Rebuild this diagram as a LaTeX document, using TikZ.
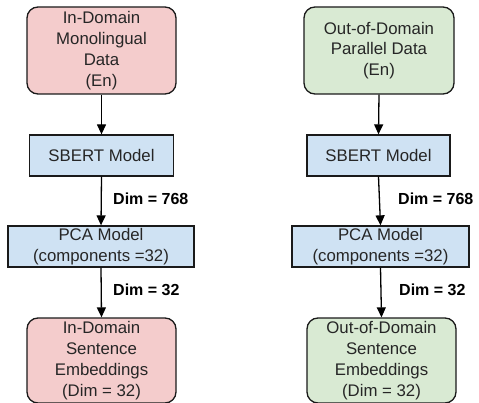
\documentclass[tikz,border=0pt]{standalone}
\usepackage{fontspec}
\setmainfont{Liberation Sans}
\usetikzlibrary{arrows.meta}
\definecolor{pinkf}{HTML}{F4CCCC}
\definecolor{greenf}{HTML}{D9EAD3}
\definecolor{bluef}{HTML}{CFE2F3}
\definecolor{edge}{HTML}{1A1A1A}
\tikzset{
  base/.style={draw=edge, line width=1.3pt, align=center, inner sep=0pt,
    font=\fontsize{16.8}{20.8}\selectfont, text=black!85},
  datapink/.style={base, fill=pinkf, rounded corners=11pt, minimum width=149pt, minimum height=87pt},
  datagreen/.style={base, fill=greenf, rounded corners=11pt, minimum width=150pt, minimum height=87pt},
  model/.style={base, fill=bluef, minimum height=41pt},
  arr/.style={-{Triangle[length=10pt,width=9pt]}, line width=1.3pt, draw=black},
  dimlbl/.style={anchor=west, inner sep=0pt, font=\fontsize{16}{19}\selectfont\bfseries}
}
\begin{document}
\begin{tikzpicture}[x=1pt,y=-1pt]
\useasboundingbox (0,0) rectangle (479,403);
% left column
\node[datapink] (a1) at (101.5,50.5) {In-Domain\\Monolingual\\Data\\(En)};
\node[model, minimum width=144pt] (a2) at (101.5,155.5) {SBERT Model};
\node[model, minimum width=186pt] (a3) at (101,246.5) {PCA Model\\(components =32)};
\node[datapink, minimum height=85pt] (a4) at (101.5,360.5) {In-Domain\\Sentence\\Embeddings\\(Dim = 32)};
\draw[arr] (a1.south) -- (a2.north);
\draw[arr] (a2.south) -- (a3.north);
\draw[arr] (a3.south) -- (a4.north);
\node[dimlbl] (la) at (113,199) {Dim = 768};
\node[dimlbl] (lb) at (113,290) {Dim = 32};
% right column
\node[datagreen] (b1) at (379,50.5) {Out-of-Domain\\Parallel Data\\(En)};
\node[model, minimum width=143pt] (b2) at (378.5,155.5) {SBERT Model};
\node[model, minimum width=177pt] (b3) at (380.5,246.5) {PCA Model\\(components =32)};
\node[datagreen, minimum width=149pt, minimum height=85pt] (b4) at (381.5,360.5) {Out-of-Domain\\Sentence\\Embeddings\\(Dim = 32)};
\draw[arr] (b1.south) -- (b2.north);
\draw[arr] (b2.south) -- (b3.north);
\draw[arr] (b3.south) -- (b4.north);
\node[dimlbl] (lc) at (398,199) {Dim = 768};
\node[dimlbl] (ld) at (399,290) {Dim = 32};
\end{tikzpicture}
\end{document}
